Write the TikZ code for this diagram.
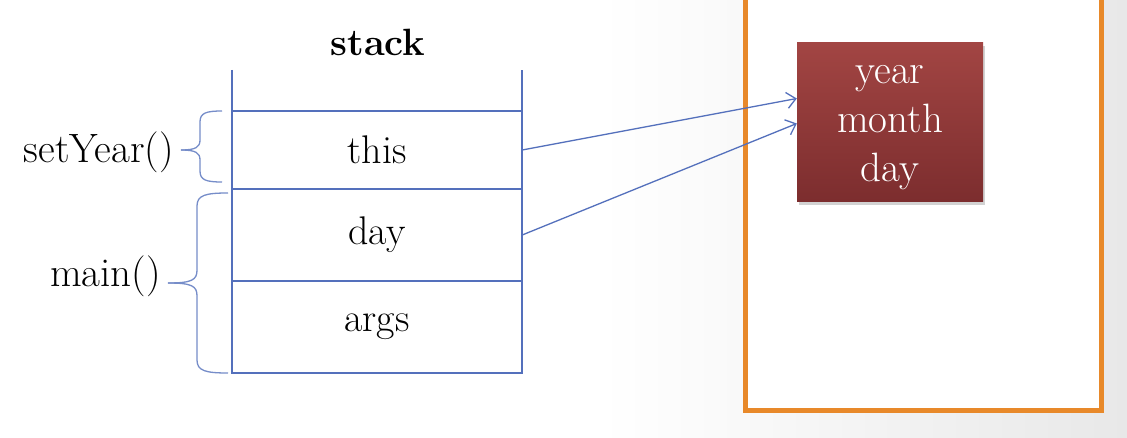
\documentclass[tikz,border=0pt]{standalone}
\usetikzlibrary{arrows.meta,shadows}
\definecolor{stk}{HTML}{5470BC}
\definecolor{org}{HTML}{E8892A}
\definecolor{redtop}{HTML}{A24543}
\definecolor{redbot}{HTML}{7C2D2E}
\begin{document}
\begin{tikzpicture}[x=1pt,y=-1pt,
  txt/.style={font=\fontsize{41}{48}\selectfont, inner sep=0pt},
  cell/.style={minimum width=290pt, inner sep=0pt, font=\fontsize{40}{48}\selectfont},
  stkline/.style={draw=stk, line width=1.4pt},
  ptr/.style={draw=stk, line width=1.3pt, -{Straight Barb[length=9pt,width=16pt,line width=1.3pt]}},
  brc/.style={draw=stk!80, line width=1.3pt}]
\useasboundingbox (0,0) rectangle (1127,438);
\fill[white] (0,0) rectangle (1127,438);
\shade[left color=white, right color=black!9] (600,0) rectangle (1127,438);
% heap region
\draw[org, line width=5pt, fill=white] (745,-10) rectangle (1101,410);
% object
\node[draw=none, top color=redtop, bottom color=redbot, minimum width=186pt, minimum height=159pt,
      drop shadow={shadow xshift=2pt, shadow yshift=-3pt, opacity=0.35}, inner sep=0pt]
  (obj) at (890,122.5) {};
\node[align=center, text=white, font=\fontsize{41}{49}\selectfont, inner sep=0pt]
  (objtxt) at (890,128) {year\\month\\day};
% stack
\node[font=\bfseries\fontsize{38}{44}\selectfont] (title) at (378,42) {stack};
\draw[stkline] (232,70) -- (232,373) -- (522,373) -- (522,70);
\draw[stkline] (232,111) -- (522,111);
\draw[stkline] (232,189) -- (522,189);
\draw[stkline] (232,281) -- (522,281);
\node[cell] (this) at (377,150) {\raisebox{-0.3ex}{this}};
\node[cell] (day) at (377,235) {\raisebox{-0.2ex}{day}};
\node[cell] (args) at (377,327) {args};
% pointers
\draw[ptr] (this.east) -- ([yshift=24pt]obj.west);
\draw[ptr] (day.east) -- ([yshift=-1pt]obj.west);
% braces
\coordinate (t1) at (181,150);
\coordinate (t2) at (168,283);
\draw[brc] (222,111) .. controls (206,111) and (200,113) .. (200,122) -- (200,140)
   .. controls (200,147) and (196,150) .. (t1);
\draw[brc] (222,182) .. controls (206,182) and (200,180) .. (200,171) -- (200,160)
   .. controls (200,153) and (196,150) .. (t1);
\draw[brc] (228,193) .. controls (206,193) and (197,195) .. (197,206) -- (197,270)
   .. controls (197,280) and (192,283) .. (t2);
\draw[brc] (228,373) .. controls (206,373) and (197,371) .. (197,360) -- (197,296)
   .. controls (197,286) and (192,283) .. (t2);
\node[txt, anchor=east] (setyear) at (174,152) {setYear()};
\node[txt, anchor=east] (main) at (161,276) {main()};
\end{tikzpicture}
\end{document}
